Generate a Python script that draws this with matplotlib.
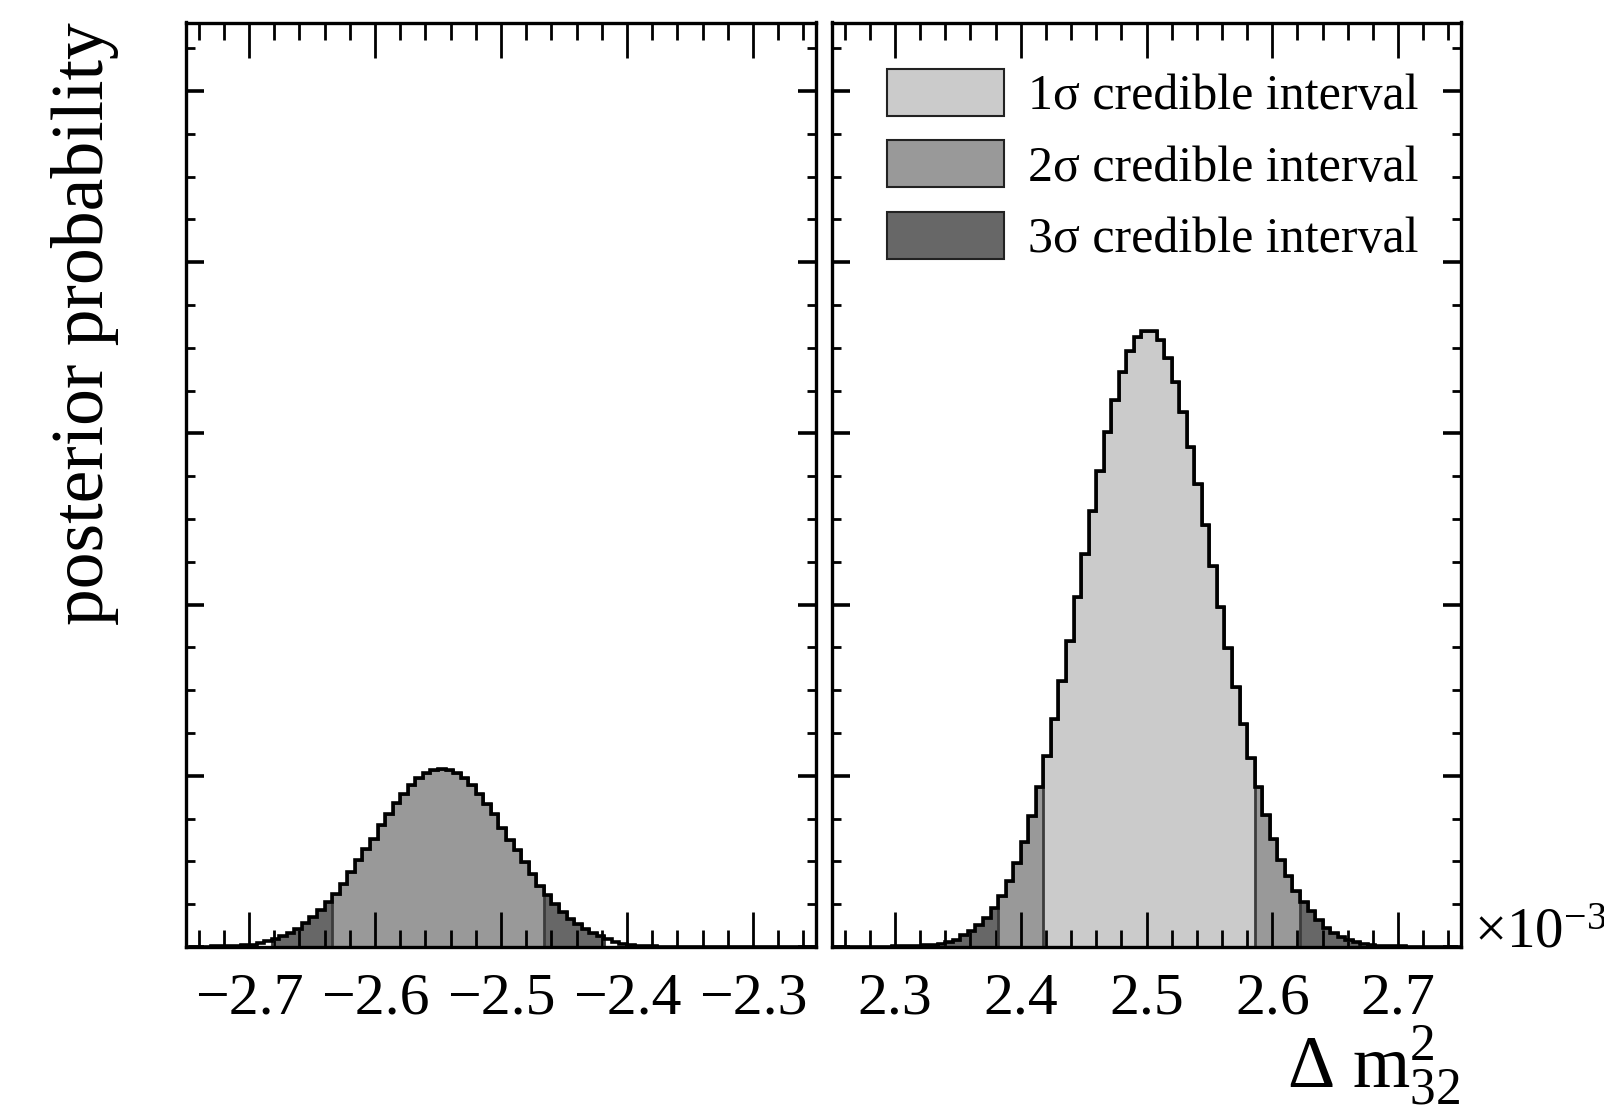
import numpy as np
import matplotlib
matplotlib.use("Agg")
import matplotlib.pyplot as plt
from matplotlib.patches import Patch
from matplotlib.ticker import MultipleLocator, NullFormatter

plt.rcParams["font.family"] = ["Liberation Serif", "DejaVu Serif"]
plt.rcParams["mathtext.fontset"] = "custom"
plt.rcParams["mathtext.rm"] = "Liberation Serif"
plt.rcParams["mathtext.it"] = "Liberation Serif:italic"
plt.rcParams["mathtext.bf"] = "Liberation Serif:bold"
plt.rcParams["axes.unicode_minus"] = True

# ---- data: posterior probability per bin (in percent) ----
BIN_WIDTH = 0.006
PERCENT = 0.01

# inverted hierarchy (negative delta m^2_32), bins start at -2.748
left_first_edge = -2.748
left_percent = [
    0.001, 0.0015, 0.002, 0.003, 0.004, 0.005, 0.007, 0.010,
    0.014, 0.023, 0.035, 0.049, 0.064, 0.084, 0.107, 0.142,
    0.175, 0.214, 0.263, 0.311, 0.370, 0.438, 0.506, 0.570,
    0.632, 0.710, 0.778, 0.840, 0.895, 0.947, 0.986, 1.016,
    1.031, 1.037, 1.031, 1.016, 0.986, 0.947, 0.895, 0.837,
    0.778, 0.697, 0.626, 0.564, 0.496, 0.424, 0.354, 0.302,
    0.253, 0.204, 0.165, 0.136, 0.107, 0.082, 0.062, 0.045,
    0.029, 0.019, 0.012, 0.008, 0.005, 0.0035, 0.0025, 0.0018,
    0.0012, 0.0008, 0.0005, 0.0004, 0.0003, 0.0002, 0.0002, 0.0001,
    0.0001, 0.0001, 0.0, 0.0, 0.0, 0.0, 0.0, 0.0,
    0.0, 0.0, 0.0,
]

# normal hierarchy (positive delta m^2_32), bins start at 2.250
right_first_edge = 2.250
right_percent = [
    0.0005, 0.0006, 0.0008, 0.001, 0.0013, 0.0017, 0.0022, 0.0028,
    0.0035, 0.004, 0.006, 0.008, 0.011, 0.014, 0.019, 0.031,
    0.043, 0.072, 0.095, 0.131, 0.172, 0.227, 0.298, 0.387,
    0.489, 0.616, 0.764, 0.936, 1.115, 1.329, 1.554, 1.785,
    2.045, 2.298, 2.549, 2.780, 3.007, 3.196, 3.358, 3.484,
    3.563, 3.599, 3.600, 3.544, 3.442, 3.298, 3.126, 2.919,
    2.702, 2.463, 2.224, 1.986, 1.747, 1.516, 1.301, 1.105,
    0.936, 0.771, 0.632, 0.508, 0.413, 0.329, 0.263, 0.208,
    0.155, 0.112, 0.084, 0.060, 0.043, 0.029, 0.017, 0.012,
    0.008, 0.006, 0.004, 0.003, 0.002, 0.0015, 0.001, 0.0008,
    0.0006, 0.0004, 0.0003,
]

# credible intervals (lower, upper) in units of 1e-3 eV^2
left_intervals = {"3σ": (-2.682, -2.418), "2σ": (-2.634, -2.466)}
right_intervals = {"3σ": (2.340, 2.670), "2σ": (2.382, 2.622), "1σ": (2.418, 2.586)}

left_xticks = [-2.7, -2.6, -2.5, -2.4, -2.3]
right_xticks = [2.3, 2.4, 2.5, 2.6, 2.7]

level_colors = {"1σ": "#cbcbcb", "2σ": "#999999", "3σ": "#676767"}
legend_labels = ["1σ credible interval", "2σ credible interval", "3σ credible interval"]

Y_MAX = 0.054

fig = plt.figure(figsize=(16.04, 11.06), dpi=100)
W, H = 1604.0, 1106.0
ax_l = fig.add_axes([186 / W, (H - 947) / H, 630 / W, 924.5 / H])
ax_r = fig.add_axes([832 / W, (H - 947) / H, 629 / W, 924.5 / H])


def draw_panel(ax, first_edge, percent, intervals, xlim, xticks):
    values = np.asarray(percent) * PERCENT
    edges = np.round(first_edge + BIN_WIDTH * np.arange(len(values) + 1), 6)
    centers = 0.5 * (edges[:-1] + edges[1:])
    for level in ["3σ", "2σ", "1σ"]:
        if level not in intervals:
            continue
        lo, hi = intervals[level]
        idx = np.where((centers > lo) & (centers < hi))[0]
        i0, i1 = idx[0], idx[-1]
        ax.stairs(values[i0:i1 + 1], edges[i0:i1 + 2], baseline=0, fill=True,
                  facecolor=level_colors[level], edgecolor="none", zorder=1)
        ax.stairs(values[i0:i1 + 1], edges[i0:i1 + 2], baseline=0, fill=False,
                  edgecolor="#3c3c3c", linewidth=2.0, zorder=2)
    ax.stairs(values, edges, baseline=None, fill=False,
              edgecolor="black", linewidth=2.6, zorder=3)

    ax.set_xlim(*xlim)
    ax.set_ylim(0, Y_MAX)
    ax.set_xticks(xticks)
    ax.xaxis.set_minor_locator(MultipleLocator(0.02))
    ax.yaxis.set_major_locator(MultipleLocator(0.01))
    ax.yaxis.set_minor_locator(MultipleLocator(0.0025))
    ax.yaxis.set_major_formatter(NullFormatter())
    ax.tick_params(which="both", direction="in", top=True, right=True,
                   labelleft=False, color="black")
    ax.tick_params(axis="x", which="major", length=25, width=2.0,
                   labelsize=43, pad=18)
    ax.tick_params(axis="x", which="minor", length=12, width=2.0)
    ax.tick_params(axis="y", which="major", length=13, width=2.6)
    ax.tick_params(axis="y", which="minor", length=6.5, width=2.0)
    for s in ax.spines.values():
        s.set_linewidth(2.4)


draw_panel(ax_l, left_first_edge, left_percent, left_intervals, (-2.75, -2.25), left_xticks)
draw_panel(ax_r, right_first_edge, right_percent, right_intervals, (2.25, 2.75), right_xticks)

ax_l.set_ylabel("posterior probability", fontsize=53, loc="top")
ax_l.yaxis.set_label_coords(-0.106, 1.0)

ax_r.set_xlabel(r"$\Delta\ \mathrm{m}^{2}_{32}$", fontsize=53, loc="right")
ax_r.xaxis.set_label_coords(1.0, -0.083)

ax_r.text(1.02, 0.0, r"×10$^{-3}$", transform=ax_r.transAxes, fontsize=41,
          ha="left", va="baseline")

handles = [Patch(facecolor=level_colors[k], edgecolor="#222222", linewidth=1.5)
           for k in ["1σ", "2σ", "3σ"]]
ax_r.legend(handles, legend_labels, loc="upper left", bbox_to_anchor=(0.087, 0.950),
            frameon=False, fontsize=36, borderpad=0, borderaxespad=0,
            handlelength=2.34, handleheight=1.07, handletextpad=0.48,
            labelspacing=0.40)

fig.savefig("out.png", dpi=100)
